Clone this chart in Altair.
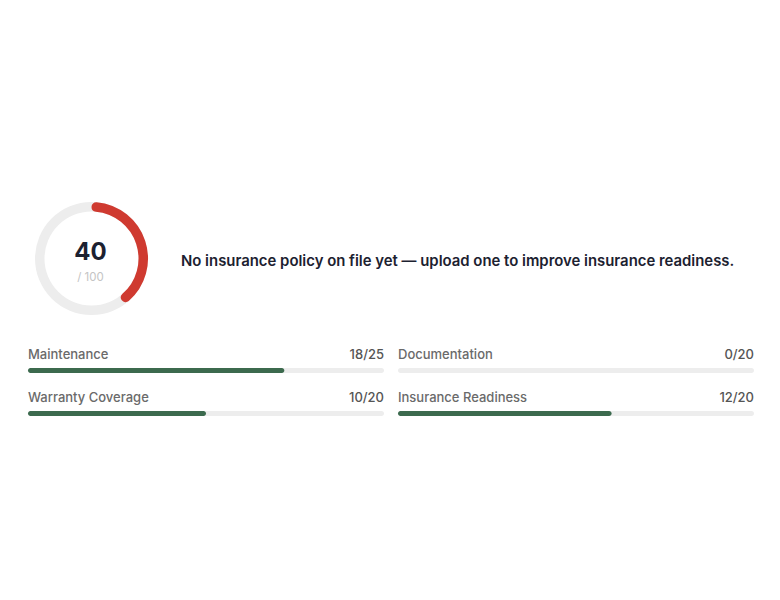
import math
import altair as alt
import pandas as pd

# ---- data ----
gauge_score = [40]
gauge_max = [100]
message = ["No insurance policy on file yet \u2014 upload one to improve insurance readiness."]

categories = ["Maintenance", "Documentation", "Warranty Coverage", "Insurance Readiness"]
scores = [18, 0, 10, 12]
maxima = [25, 20, 20, 20]

FONT = "Inter"
RED = "#cf3a30"
GREEN = "#3c6a4e"
TRACK = "#ededed"
DARK = "#1c2130"
GREY = "#6a6a6a"

# ---- gauge + message ----
theta_scale = alt.Scale(domain=[0, gauge_max[0]], range=[0, 2 * math.pi])
gauge_df = pd.DataFrame({"start": [0, 0], "end": [gauge_max[0], gauge_score[0]],
                         "part": ["track", "score"]})
cx, cy = 63.5, 250.5

track_arc = alt.Chart(gauge_df[gauge_df.part == "track"]).mark_arc(
    radius=56.5, radius2=47, color=TRACK
).encode(
    x=alt.value(cx), y=alt.value(cy),
    theta=alt.Theta("start:Q", scale=theta_scale), theta2="end:Q",
)
score_arc = alt.Chart(gauge_df[gauge_df.part == "score"]).mark_arc(
    radius=56.5, radius2=47, color=RED, cornerRadius=4.7
).encode(
    x=alt.value(cx), y=alt.value(cy),
    theta=alt.Theta("start:Q", scale=theta_scale), theta2="end:Q",
)
score_text = alt.Chart(pd.DataFrame({"t": [str(gauge_score[0])]})).mark_text(
    font=FONT, fontSize=24, fontWeight="bold", color=DARK, align="center", baseline="alphabetic"
).encode(x=alt.value(cx - 1), y=alt.value(252), text="t:N")
max_text = alt.Chart(pd.DataFrame({"t": [f"/ {gauge_max[0]}"]})).mark_text(
    font=FONT, fontSize=11.5, color="#c4c4c4", align="center", baseline="alphabetic"
).encode(x=alt.value(cx - 1), y=alt.value(272.5), text="t:N")
msg_text = alt.Chart(pd.DataFrame({"t": message})).mark_text(
    font=FONT, fontSize=14.9, fontWeight=600, color=DARK, align="left", baseline="alphabetic"
).encode(x=alt.value(153), y=alt.value(258), text="t:N")

top = alt.layer(track_arc, score_arc, score_text, max_text, msg_text).properties(
    width=726, height=324
)


# ---- bars ----
def panel(label, score, maximum):
    df = pd.DataFrame({"label": [label], "score": [score], "max": [maximum],
                       "value": [f"{score}/{maximum}"]})
    xs = alt.Scale(domain=[0, maximum], nice=False, zero=True)
    base = alt.Chart(df)
    track = base.mark_bar(color=TRACK, cornerRadius=2.5).encode(
        x=alt.X("max:Q", scale=xs, axis=None), x2=alt.datum(0),
        y=alt.value(21), y2=alt.value(26),
    )
    fill = base.mark_bar(color=GREEN, cornerRadius=2.5).encode(
        x=alt.X("score:Q", scale=xs, axis=None), x2=alt.datum(0),
        y=alt.value(21), y2=alt.value(26),
    )
    lab = base.mark_text(font=FONT, fontSize=13, fontWeight=500, color=GREY, align="left",
                         baseline="alphabetic").encode(
        x=alt.value(0), y=alt.value(12), text="label:N")
    val = base.mark_text(font=FONT, fontSize=13, fontWeight=500, color="#555555", align="right",
                         baseline="alphabetic").encode(
        x=alt.X("max:Q", scale=xs, axis=None), y=alt.value(12), text="value:N")
    return alt.layer(track, fill, lab, val).properties(width=356, height=28)


row1 = alt.hconcat(panel(categories[0], scores[0], maxima[0]),
                   panel(categories[1], scores[1], maxima[1]), spacing=14)
row2 = alt.hconcat(panel(categories[2], scores[2], maxima[2]),
                   panel(categories[3], scores[3], maxima[3]), spacing=14)

chart = alt.vconcat(top, row1, row2, spacing=15).properties(
    padding={"left": 20, "top": 0, "right": 0, "bottom": 0}
).configure(background="white").configure_view(strokeWidth=0, stroke="transparent")

chart.save("out.html", embed_options={"renderer": "svg", "actions": False})
